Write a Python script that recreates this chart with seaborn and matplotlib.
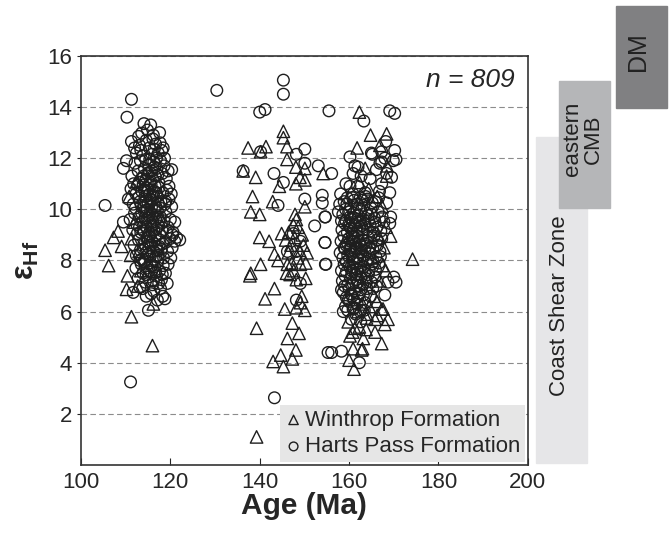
import pandas as pd
import matplotlib.pyplot as plt
import seaborn as sns
from matplotlib.patches import Rectangle

# -------------------------------
# Data: (age in Ma, epsilon Hf)
# -------------------------------
harts_early = [
    (105.4, 10.15), (110.3, 13.6), (111.3, 14.3), (111.1, 3.25), (120.3, 11.55), (121.0, 9.5),
    (121.0, 8.75), (120.3, 10.1), (109.5, 11.6), (109.5, 9.5), (110.2, 11.9), (114.1, 13.35),
    (113.6, 12.98), (116.2, 12.9), (117.7, 12.6), (111.3, 12.65), (118.4, 12.4), (115.1, 6.05),
    (118.8, 6.5), (113.2, 6.95), (119.3, 7.1), (111.7, 6.75), (122.1, 8.8), (121.4, 8.9), (120.6, 9.1),
    (112.4, 12.2), (113.1, 12.5), (114.6, 12.7), (115.3, 12.4), (116.7, 12.55), (117.3, 12.2),
    (113.9, 12.1), (115.9, 12.15), (112.9, 12.85), (114.9, 13.1), (116.1, 12.75), (118.1, 12.3),
    (111.4, 11.3), (112.1, 11.8), (112.8, 11.5), (113.3, 11.9), (113.7, 11.2), (114.2, 11.6),
    (114.5, 11.95), (114.9, 11.4), (115.2, 11.75), (115.6, 11.1), (115.9, 11.5), (116.3, 11.85),
    (116.6, 11.3), (117.0, 11.6), (117.4, 11.05), (117.8, 11.9), (118.2, 11.4), (118.6, 11.7),
    (119.1, 11.2), (119.5, 11.5), (113.0, 11.05), (114.0, 11.3), (116.0, 11.2), (115.4, 11.95),
    (116.9, 12.0),
    (110.6, 10.4), (111.2, 10.8), (111.7, 10.2), (112.3, 10.6), (112.7, 10.95), (113.2, 10.3),
    (113.6, 10.7), (114.0, 10.1), (114.3, 10.5), (114.7, 10.85), (115.0, 10.25), (115.4, 10.6),
    (115.7, 10.95), (116.0, 10.35), (116.4, 10.7), (116.8, 10.1), (117.1, 10.5), (117.5, 10.85),
    (117.9, 10.3), (118.3, 10.65), (118.8, 10.2), (119.2, 10.75), (119.7, 10.4), (120.2, 10.6),
    (114.9, 10.0), (115.8, 10.1), (116.6, 10.9), (113.9, 10.95), (115.1, 10.75), (116.2, 10.55),
    (114.5, 10.3), (117.3, 10.2), (112.9, 10.45),
    (111.0, 9.6), (111.6, 9.2), (112.0, 9.85), (112.5, 9.4), (113.0, 9.7), (113.4, 9.1),
    (113.8, 9.5), (114.2, 9.9), (114.6, 9.3), (114.9, 9.65), (115.3, 9.05), (115.6, 9.45),
    (116.0, 9.8), (116.3, 9.2), (116.7, 9.6), (117.1, 9.95), (117.4, 9.35), (117.8, 9.7),
    (118.2, 9.15), (118.6, 9.55), (119.0, 9.9), (119.5, 9.3), (120.0, 9.6), (120.5, 9.0),
    (115.2, 9.75), (116.1, 9.5), (114.4, 9.6), (115.9, 9.1), (116.9, 9.25), (113.6, 9.85), (117.6, 9.05),
    (111.9, 8.6), (112.4, 8.2), (112.9, 8.8), (113.3, 8.4), (113.7, 8.05), (114.1, 8.65),
    (114.5, 8.3), (114.8, 8.9), (115.2, 8.5), (115.5, 8.15), (115.9, 8.75), (116.2, 8.35),
    (116.6, 8.95), (116.9, 8.55), (117.3, 8.2), (117.7, 8.8), (118.0, 8.45), (118.5, 8.1),
    (118.9, 8.7), (119.4, 8.35), (119.9, 8.85), (120.4, 8.5), (115.7, 8.6), (116.4, 8.05),
    (114.3, 8.0), (117.1, 8.4), (115.0, 8.75),
    (112.3, 7.7), (112.8, 7.3), (113.5, 7.85), (113.9, 7.5), (114.4, 7.15), (114.7, 7.7),
    (115.1, 7.35), (115.5, 7.9), (115.8, 7.55), (116.2, 7.2), (116.5, 7.75), (116.9, 7.4),
    (117.2, 7.95), (117.6, 7.6), (118.0, 7.25), (118.4, 7.8), (118.9, 7.5), (119.5, 7.85),
    (116.0, 7.05), (117.4, 7.1), (115.3, 7.6), (114.1, 7.95),
    (113.8, 6.9), (114.6, 6.6), (116.3, 6.8), (117.1, 6.45), (117.8, 6.9), (115.7, 6.7), (118.3, 6.6),
    (114.2, 10.75), (115.6, 10.4), (116.9, 10.65), (113.5, 10.15), (117.7, 10.05), (115.3, 11.45),
    (116.5, 11.65), (114.4, 11.1), (117.2, 11.35), (113.1, 9.3), (114.7, 9.95), (116.5, 9.95),
    (118.0, 9.45), (115.8, 9.35), (114.0, 9.15), (117.2, 9.7), (113.9, 8.45), (115.4, 8.95),
    (116.8, 8.15), (118.3, 8.65), (115.1, 8.25), (117.5, 8.55), (114.6, 7.45), (116.7, 7.55),
    (118.2, 7.45), (115.9, 7.8), (113.2, 8.0), (119.2, 9.1), (112.2, 10.05), (119.0, 10.3),
    (112.6, 9.05), (111.8, 11.0), (118.7, 12.0), (113.4, 12.3), (116.4, 12.35), (120.1, 8.1),
    (119.7, 10.9), (112.0, 12.4), (117.6, 13.0), (115.6, 13.3),
]

harts_mid = [
    (130.4, 14.65), (145.3, 15.05), (145.3, 14.5), (140.0, 13.8), (141.2, 13.9), (155.5, 13.85),
    (140.2, 12.25), (148.2, 12.15), (150.1, 12.35), (150.1, 11.8), (153.1, 11.7), (136.3, 11.5),
    (143.2, 11.4), (145.3, 11.05), (144.1, 10.15), (150.1, 10.4), (154.0, 10.55), (154.0, 10.25),
    (152.3, 9.35), (154.6, 9.7), (147.5, 9.05), (149.1, 8.75), (154.6, 8.7), (146.2, 8.35),
    (148.2, 8.35), (149.1, 7.1), (148.2, 6.45), (143.3, 2.63), (154.7, 7.85), (155.3, 4.4),
]

harts_late = [
    (163.3, 13.45), (169.1, 13.85), (170.2, 13.75), (168.2, 12.65), (170.2, 12.3), (165.2, 12.15),
    (167.3, 12.25), (160.2, 12.05), (170.5, 11.95), (167.3, 11.85), (161.3, 11.7), (162.0, 11.65),
    (160.9, 11.4), (166.1, 11.55), (168.4, 11.4), (169.5, 11.25), (167.3, 11.0), (156.1, 11.4),
    (160.2, 10.9), (169.1, 10.65), (163.6, 10.65), (160.9, 10.6), (163.0, 10.35), (168.4, 10.25),
    (157.6, 9.9), (154.7, 9.7), (169.3, 9.7), (169.1, 9.45), (154.6, 8.7), (154.8, 7.85),
    (170.0, 7.35), (170.5, 7.15), (168.7, 7.15), (158.3, 6.85), (168.0, 6.65), (158.7, 6.0),
    (156.1, 4.4), (158.3, 4.45), (162.3, 4.0), (165.0, 12.2), (168.0, 12.0), (169.9, 11.9),
    (166.9, 11.8), (161.9, 10.9), (157.9, 10.2),
    (158.9, 10.3), (159.6, 10.45), (160.4, 10.1), (161.1, 10.35), (161.8, 10.2), (162.5, 10.45),
    (163.3, 10.15), (164.1, 10.4), (164.9, 10.05), (165.8, 10.3), (166.6, 10.45), (159.2, 10.0),
    (158.6, 9.8), (159.3, 9.55), (159.9, 9.9), (160.5, 9.6), (161.0, 9.85), (161.6, 9.5),
    (162.1, 9.75), (162.7, 9.95), (163.2, 9.6), (163.8, 9.85), (164.4, 9.55), (165.0, 9.8),
    (165.7, 9.65), (166.5, 9.9), (167.4, 9.7), (160.2, 9.7), (162.4, 9.55),
    (158.4, 9.2), (159.0, 9.45), (159.6, 9.1), (160.1, 9.35), (160.7, 9.05), (161.3, 9.4),
    (161.8, 9.15), (162.4, 9.3), (162.9, 9.05), (163.5, 9.45), (164.1, 9.2), (164.7, 9.4),
    (165.4, 9.1), (166.2, 9.3), (167.1, 9.15), (160.4, 9.25), (163.1, 9.2),
    (158.2, 8.75), (158.8, 8.95), (159.3, 8.6), (159.9, 8.85), (160.4, 8.55), (160.9, 8.9),
    (161.5, 8.65), (162.0, 8.95), (162.6, 8.6), (163.1, 8.8), (163.7, 8.55), (164.3, 8.9),
    (164.9, 8.7), (165.6, 8.95), (166.4, 8.6), (167.3, 8.85), (161.2, 8.75), (162.3, 8.7), (159.6, 8.7),
    (158.0, 8.3), (158.6, 8.1), (159.1, 8.45), (159.7, 8.2), (160.2, 8.4), (160.8, 8.05),
    (161.3, 8.35), (161.9, 8.15), (162.4, 8.45), (163.0, 8.2), (163.5, 8.4), (164.1, 8.05),
    (164.7, 8.3), (165.3, 8.45), (166.0, 8.15), (166.9, 8.35), (160.5, 8.25), (162.7, 8.3), (161.6, 8.5),
    (158.3, 7.6), (158.9, 7.85), (159.4, 7.55), (160.0, 7.8), (160.6, 7.6), (161.1, 7.95),
    (161.7, 7.65), (162.2, 7.9), (162.8, 7.55), (163.3, 7.75), (163.9, 7.95), (164.5, 7.6),
    (165.1, 7.85), (165.9, 7.65), (166.7, 7.9), (160.3, 7.7), (162.5, 7.7),
    (158.5, 7.2), (159.1, 7.4), (159.7, 7.05), (160.3, 7.3), (160.9, 7.1), (161.4, 7.45),
    (162.0, 7.15), (162.6, 7.35), (163.1, 7.05), (163.7, 7.3), (164.3, 7.45), (165.0, 7.15),
    (165.8, 7.35), (161.7, 7.25),
    (158.7, 6.75), (159.4, 6.55), (160.0, 6.9), (160.7, 6.6), (161.3, 6.8), (161.9, 6.55),
    (162.6, 6.85), (163.2, 6.65), (164.0, 6.9), (164.8, 6.6), (160.4, 6.7),
    (159.2, 6.2), (160.1, 6.4), (160.9, 6.1), (161.8, 6.3), (162.7, 6.05), (163.6, 6.35), (159.7, 6.05),
    (160.5, 5.7), (161.5, 5.9), (162.6, 5.6),
    (159.5, 10.2), (160.8, 10.45), (162.2, 10.05), (163.7, 10.5), (165.2, 10.25), (159.9, 9.4),
    (161.3, 9.65), (162.8, 9.35), (164.3, 9.75), (165.8, 9.5), (158.9, 8.5), (160.3, 8.75),
    (161.8, 8.45), (163.4, 8.65), (164.6, 8.5), (166.2, 8.8), (159.4, 7.95), (160.9, 7.75),
    (162.4, 8.05), (163.6, 7.6), (165.4, 7.95), (159.0, 7.0), (160.6, 7.45), (162.3, 7.0),
    (163.9, 7.15), (165.3, 6.9), (159.8, 6.45), (161.1, 6.45), (162.3, 6.7), (163.4, 6.05),
    (161.2, 6.15), (166.1, 7.0), (158.3, 9.55), (167.0, 8.15), (167.8, 9.5), (166.8, 10.7),
    (158.1, 10.6), (159.3, 11.0), (164.7, 11.2), (162.7, 11.3),
]

winthrop_early = [
    (105.4, 8.4), (106.2, 7.8), (107.3, 8.9), (108.3, 9.15), (109.1, 8.55), (110.4, 7.4),
    (110.2, 6.87), (111.3, 8.85), (111.3, 5.8), (113.0, 8.35), (116.2, 6.3), (116.0, 4.67),
    (111.1, 8.2), (112.0, 9.5), (110.8, 10.5), (112.5, 11.1), (113.4, 7.6), (114.8, 9.0),
    (115.5, 10.6), (112.7, 7.0),
]

winthrop_mid = [
    (145.3, 13.05), (145.3, 12.8), (137.4, 12.4), (141.4, 12.45), (140.2, 12.25), (146.1, 12.45),
    (146.1, 11.95), (150.1, 11.6), (148.1, 11.65), (154.2, 11.4), (136.3, 11.5), (139.1, 11.25),
    (144.4, 10.9), (149.0, 11.25), (150.1, 11.15), (148.1, 11.0), (138.4, 10.5), (142.9, 10.3),
    (150.1, 10.1), (138.0, 9.9), (140.0, 9.8), (147.9, 9.8), (148.2, 9.6), (147.5, 9.4),
    (148.6, 9.3), (140.0, 8.9), (142.1, 8.75), (144.9, 9.05), (143.3, 8.25), (144.1, 8.0),
    (140.2, 7.85), (138.0, 7.5), (146.2, 7.85), (146.0, 7.5), (146.8, 7.45), (149.1, 7.85),
    (150.3, 7.9), (148.2, 7.25), (150.3, 7.3), (143.3, 6.9), (141.2, 6.5), (149.4, 6.6),
    (149.1, 6.35), (145.6, 6.1), (148.2, 6.15), (150.1, 6.05), (139.3, 5.35), (147.3, 5.55),
    (146.2, 4.95), (148.8, 5.15), (148.1, 4.5), (144.7, 4.3), (143.0, 4.05), (147.3, 4.15),
    (145.3, 3.85), (139.3, 1.1), (137.8, 7.4),
    (147.0, 8.6), (147.8, 8.9), (148.9, 8.4), (146.5, 9.1), (149.5, 9.0), (147.2, 7.9),
    (148.5, 8.1), (149.8, 8.6), (146.4, 8.3), (147.6, 7.6), (150.6, 8.3), (145.8, 8.8),
]

winthrop_late = [
    (162.3, 13.8), (168.4, 12.95), (166.9, 12.5), (168.5, 11.7), (168.4, 11.3), (162.3, 11.05),
    (166.3, 10.5), (169.3, 8.95), (174.2, 8.05), (167.3, 6.1), (168.7, 5.7), (168.0, 5.5),
    (165.8, 5.2), (167.3, 4.75), (163.2, 4.95), (163.8, 5.3), (160.2, 5.05), (163.9, 5.75),
    (162.3, 5.4), (160.9, 4.55), (162.8, 4.5), (160.0, 4.1), (161.1, 3.75), (163.0, 4.55),
    (161.3, 5.35), (165.8, 5.7), (166.3, 5.85), (167.6, 6.1),
    (166.5, 9.0), (167.8, 8.5), (168.3, 9.3), (166.9, 7.2), (167.5, 7.8), (165.6, 6.6),
    (164.5, 6.2), (166.2, 6.4), (168.2, 7.6), (164.0, 5.9), (162.0, 6.0), (159.8, 5.6),
    (160.8, 5.2), (163.0, 6.3), (165.2, 8.1), (164.4, 10.8), (163.6, 11.6), (167.4, 10.1),
    (161.8, 12.4), (164.8, 12.9),
]

harts = pd.DataFrame(harts_early + harts_mid + harts_late, columns=["age", "ehf"])
winthrop = pd.DataFrame(winthrop_early + winthrop_mid + winthrop_late, columns=["age", "ehf"])

# side bars: label, colour
zone_labels = ["Coast Shear Zone", "eastern\nCMB", "DM"]
zone_colors = ["#e6e6e8", "#b5b6b8", "#808082"]
zone_sizes = [16, 16, 18]

# -------------------------------
# Plot
# -------------------------------
sns.set_style("ticks")
plt.rcParams["font.family"] = ["Liberation Sans", "DejaVu Sans"]
plt.rcParams["mathtext.fontset"] = "custom"
plt.rcParams["mathtext.rm"] = "Liberation Sans"
plt.rcParams["mathtext.bf"] = "Liberation Sans:bold"

fig = plt.figure(figsize=(6.69, 5.37), dpi=100)
ax = fig.add_axes([0.121, 0.134, 0.668, 0.762])

sns.scatterplot(data=winthrop, x="age", y="ehf", marker="^", s=80, facecolors="none",
                edgecolor="#1e1e1e", linewidth=1.0, label="Winthrop Formation", ax=ax, zorder=3)
sns.scatterplot(data=harts, x="age", y="ehf", marker="o", s=70, facecolors="none",
                edgecolor="#1e1e1e", linewidth=1.0, label="Harts Pass Formation", ax=ax, zorder=3)

ax.set_xlim(100, 200)
ax.set_ylim(0, 16)
ax.set_xticks(range(100, 201, 20))
ax.set_yticks(range(2, 17, 2))
ax.tick_params(axis="x", direction="in", length=5, labelsize=16, pad=5)
ax.tick_params(axis="y", direction="out", length=3, labelsize=16)
ax.yaxis.grid(True, linestyle=(0, (5, 3)), color="#8c8c8c", linewidth=0.8)
ax.set_axisbelow(True)
for sp in ax.spines.values():
    sp.set_linewidth(1.2)
    sp.set_color("#333333")

ax.set_xlabel("Age (Ma)", fontsize=21.5, fontweight="bold", labelpad=-1)
ax.set_ylabel("ε$_{\\mathbf{Hf}}$", fontsize=22, fontweight="bold", labelpad=4)

ax.text(0.971, 0.941, "n = 809", transform=ax.transAxes, ha="right", va="center",
        fontsize=19, style="italic")

leg = ax.legend(loc="lower right", fontsize=16, frameon=True, fancybox=False,
                facecolor="#e6e6e6", edgecolor="none", framealpha=1, markerscale=0.75,
                handletextpad=0.1, borderaxespad=0.15, borderpad=0.2, labelspacing=0.25,
                handlelength=0.8)

# side bars outside the axes (figure fractions)
boxes = [(0.801, 0.138, 0.076, 0.607), (0.836, 0.613, 0.076, 0.2365), (0.921, 0.799, 0.076, 0.19)]
text_pos = [(0.836, 0.43), (0.872, 0.741), (0.954, 0.903)]
for (x0, y0, w, h), col in zip(boxes, zone_colors):
    fig.patches.append(Rectangle((x0, y0), w, h, transform=fig.transFigure, color=col, zorder=0))
for (tx, ty), lab, fs in zip(text_pos, zone_labels, zone_sizes):
    fig.text(tx, ty, lab, rotation=90, ha="center", va="center", fontsize=fs,
             linespacing=1.0, color="#222222")

plt.savefig("out.png", dpi=100)
